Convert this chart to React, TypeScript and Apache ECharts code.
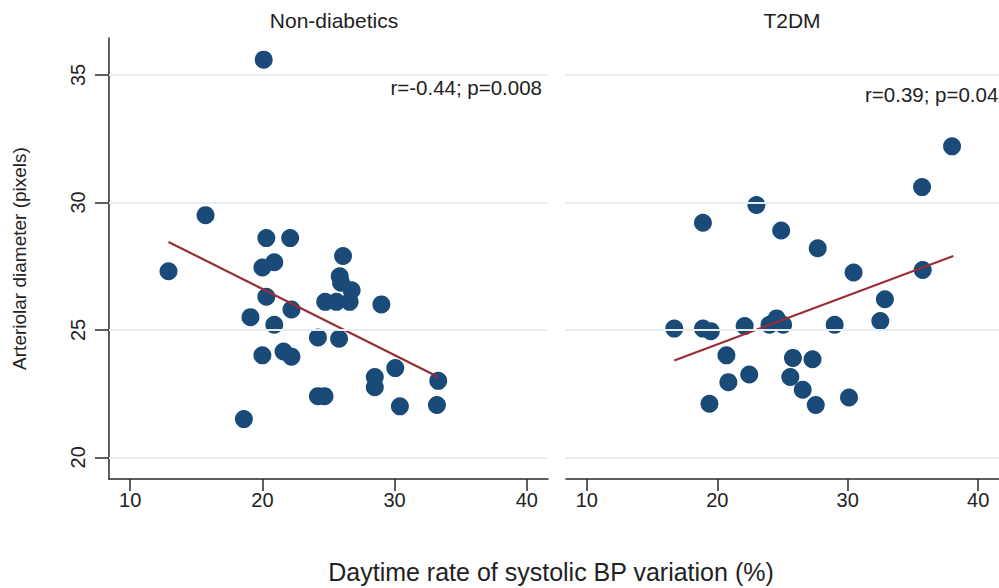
import React, { useEffect, useRef } from "react";
import * as echarts from "echarts";

const panelTitles = ["Non-diabetics", "T2DM"];
const xTicks = [10, 20, 30, 40];
const yTicks = [20, 25, 30, 35];
const xAxisTitle = "Daytime rate of systolic BP variation (%)";
const yAxisTitle = "Arteriolar diameter (pixels)";
const annotations = ["r=-0.44; p=0.008", "r=0.39; p=0.04"];

const nonDiabeticsX = [20.1, 15.7, 12.9, 20.3, 22.1, 26.1, 20.0, 20.9, 25.85, 25.95, 26.75, 24.75, 25.6, 26.6, 29.0, 20.3, 22.2, 19.1, 20.9, 24.2, 25.8, 20.0, 21.6, 22.2, 30.05, 33.3, 28.5, 28.5, 24.2, 24.7, 30.4, 33.2, 18.6];
const nonDiabeticsY = [35.6, 29.5, 27.3, 28.6, 28.6, 27.9, 27.45, 27.65, 27.1, 26.85, 26.55, 26.1, 26.1, 26.1, 26.0, 26.3, 25.8, 25.5, 25.2, 24.7, 24.65, 24.0, 24.15, 23.95, 23.5, 23.0, 23.15, 22.75, 22.4, 22.4, 22.0, 22.05, 21.5];

const t2dmX = [38.0, 35.7, 23.0, 18.9, 24.9, 27.7, 30.45, 35.75, 32.85, 32.5, 29.0, 16.7, 18.9, 19.5, 22.1, 24.0, 24.55, 25.05, 20.7, 25.8, 27.3, 22.45, 20.85, 25.6, 26.55, 19.4, 27.55, 30.1];
const t2dmY = [32.2, 30.6, 29.9, 29.2, 28.9, 28.2, 27.25, 27.35, 26.2, 25.35, 25.2, 25.05, 25.05, 24.95, 25.15, 25.2, 25.45, 25.2, 24.0, 23.9, 23.85, 23.25, 22.95, 23.15, 22.65, 22.1, 22.05, 22.35];

const fitNonDiabeticsX = [12.9, 33.3];
const fitNonDiabeticsY = [28.45, 23.15];
const fitT2dmX = [16.7, 38.1];
const fitT2dmY = [23.8, 27.9];

const X_MIN = 8.4;
const X_MAX = 41.6;
const Y_MIN = 19.15;
const Y_MAX = 36.45;

const FONT = "'Liberation Sans', Arial, Helvetica, sans-serif";
const TEXT = "#222222";
const DOT = "#1a4a78";
const FIT = "#9a2d36";
const GRIDC = "#e6edf3";
const AXIS = "#2a2a2a";

const zip = (xs: number[], ys: number[]) => xs.map((x, i) => [x, ys[i]]);

export default function App() {
  const ref = useRef<HTMLDivElement>(null);
  useEffect(() => {
    if (!ref.current) return;
    const chart = echarts.init(ref.current, null, { renderer: "svg" });
    const grids = [
      { left: 109, top: 38, width: 439, height: 441 },
      { left: 566, top: 38, width: 440, height: 441 },
    ];
    const xAxes = grids.map((_, i) => ({
      type: "value",
      gridIndex: i,
      min: X_MIN,
      max: X_MAX,
      axisLine: { show: true, onZero: false, lineStyle: { color: AXIS, width: 1.5 } },
      axisTick: { show: true, customValues: xTicks, length: 12, lineStyle: { color: AXIS, width: 1.5 } },
      axisLabel: { customValues: xTicks, color: TEXT, fontFamily: FONT, fontSize: 20, margin: 11 },
      splitLine: { show: false },
    }));
    const yAxes = grids.map((_, i) => ({
      type: "value",
      gridIndex: i,
      min: Y_MIN,
      max: Y_MAX,
      name: i === 0 ? yAxisTitle : "",
      nameLocation: "middle",
      nameGap: 80,
      nameRotate: 90,
      nameTextStyle: { color: TEXT, fontFamily: FONT, fontSize: 19 },
      axisLine: { show: i === 0, onZero: false, lineStyle: { color: AXIS, width: 1.5 } },
      axisTick: { show: i === 0, customValues: yTicks, length: 14, lineStyle: { color: AXIS, width: 1.5 } },
      axisLabel: { show: i === 0, customValues: yTicks, rotate: 90, color: TEXT, fontFamily: FONT, fontSize: 20, margin: 21 },
      splitLine: { show: false },
    }));
    const gridMark = {
      silent: true,
      symbol: "none",
      label: { show: false },
      lineStyle: { color: GRIDC, width: 2, type: "solid" },
      data: yTicks.map((v) => ({ yAxis: v })),
    };
    const scatter = (idx: number, data: number[][]) => ({
      type: "scatter",
      xAxisIndex: idx,
      yAxisIndex: idx,
      data,
      symbolSize: 18,
      itemStyle: { color: DOT, opacity: 1 },
      markLine: gridMark,
      z: 3,
    });
    const fit = (idx: number, data: number[][]) => ({
      type: "line",
      xAxisIndex: idx,
      yAxisIndex: idx,
      data,
      showSymbol: false,
      symbol: "none",
      lineStyle: { color: FIT, width: 2.2 },
      z: 4,
    });
    chart.setOption({
      animation: false,
      backgroundColor: "#ffffff",
      grid: grids,
      xAxis: xAxes,
      yAxis: yAxes,
      title: [
        { text: panelTitles[0], left: 329, top: 5, textAlign: "center", textStyle: { color: TEXT, fontFamily: FONT, fontSize: 21, fontWeight: "normal" } },
        { text: panelTitles[1], left: 787, top: 5, textAlign: "center", textStyle: { color: TEXT, fontFamily: FONT, fontSize: 21, fontWeight: "normal" } },
      ],
      graphic: [
        { type: "text", x: 542, y: 87, style: { text: annotations[0], fill: TEXT, font: `20.5px ${FONT}`, textAlign: "right", textVerticalAlign: "middle" } },
        { type: "text", x: 865, y: 94, style: { text: annotations[1], fill: TEXT, font: `20.5px ${FONT}`, textAlign: "left", textVerticalAlign: "middle" } },
        { type: "text", x: 551, y: 572, style: { text: xAxisTitle, fill: TEXT, font: `25px ${FONT}`, textAlign: "center", textVerticalAlign: "middle" } },
      ],
      series: [
        scatter(0, zip(nonDiabeticsX, nonDiabeticsY)),
        fit(0, zip(fitNonDiabeticsX, fitNonDiabeticsY)),
        scatter(1, zip(t2dmX, t2dmY)),
        fit(1, zip(fitT2dmX, fitT2dmY)),
      ],
    });
    return () => chart.dispose();
  }, []);
  return (
    <div
      ref={ref}
      style={{ position: "absolute", left: 0, top: 0, width: 999, height: 588, background: "#fff" }}
    />
  );
}
